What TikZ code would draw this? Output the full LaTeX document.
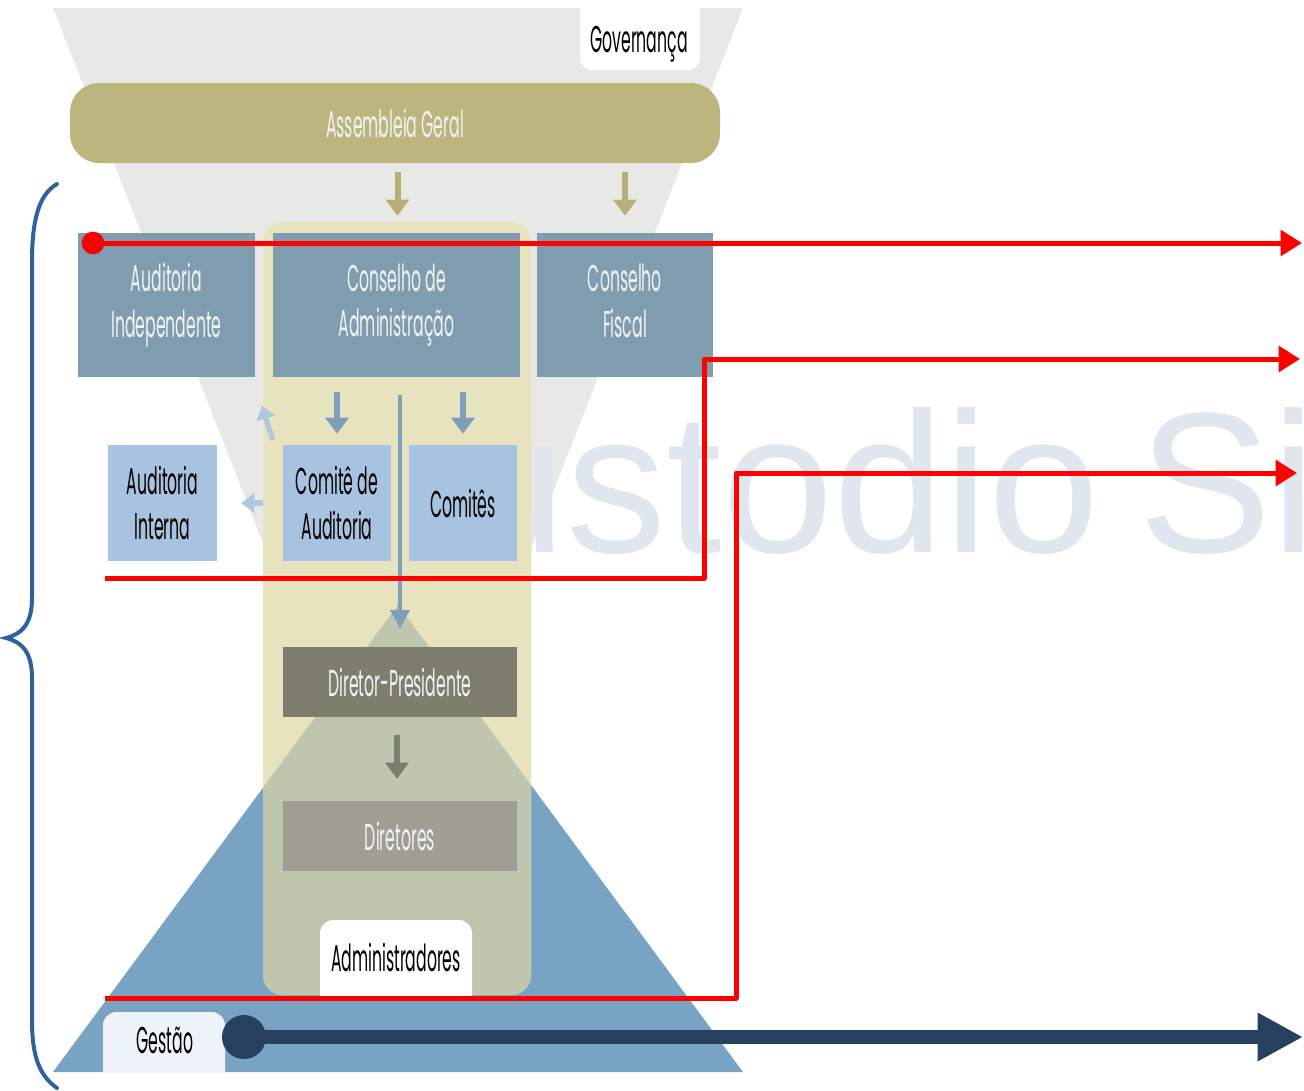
\documentclass[tikz,border=0pt]{standalone}
\usepackage{fontspec}
\newfontfamily\ff[FakeStretch=0.42]{Poppins}
\newfontfamily\wmfont{Liberation Sans}
\usetikzlibrary{arrows.meta,calc}
\definecolor{funnelc}{HTML}{E8E9E6}
\definecolor{panelc}{HTML}{E7E3BF}
\definecolor{blendc}{HTML}{BEC6AE}
\definecolor{tric}{HTML}{78A3C3}
\definecolor{steelc}{HTML}{7F9DAF}
\definecolor{lbluec}{HTML}{A8C3DF}
\definecolor{olivec}{HTML}{BDB57E}
\definecolor{oarrowc}{HTML}{B6AF78}
\definecolor{barrowc}{HTML}{7F9EB9}
\definecolor{lbarrowc}{HTML}{AFC7E1}
\definecolor{dpc}{HTML}{7E7E6F}
\definecolor{dirc}{HTML}{A09D94}
\definecolor{navyc}{HTML}{27405F}
\definecolor{bracec}{HTML}{3060A0}
\definecolor{wmc}{HTML}{DFE6EE}
\definecolor{gestc}{HTML}{EDF3F9}
\definecolor{wtext}{HTML}{F0F3F5}
\begin{document}
\begin{tikzpicture}[x=0.75pt,y=-0.75pt,
  wh/.style 2 args={minimum width=#1*0.75pt,minimum height=#2*0.75pt},
  txt/.style={font=\ff\fontsize{28}{34}\selectfont,align=center,inner sep=0pt},
  steelbox/.style={txt,fill=steelc,text=wtext},
  lbox/.style={txt,fill=lbluec,text=black},
  oarrow/.style={draw=oarrowc,line width=4.5pt,-{Triangle[width=17pt,length=12pt]}},
  barrow/.style={draw=barrowc,line width=4.5pt,-{Triangle[width=17pt,length=12pt]}},
  garrow/.style={draw=dpc,line width=4.5pt,-{Triangle[width=17pt,length=12pt]}},
  lbarrow/.style={draw=lbarrowc,line width=4pt,-{Triangle[width=14pt,length=10pt]}},
  redline/.style={draw=red,line width=3.75pt,line cap=butt,-{Triangle[width=19pt,length=16pt]}},
  wmark/.style={anchor=base west,inner sep=0pt,text=wmc,font=\wmfont\fontsize{150}{150}\selectfont}
]
\useasboundingbox (0,0) rectangle (1304,1090);
\fill[white] (0,0) rectangle (1304,1090);
\begin{scope}
\clip (0,0) rectangle (1304,1090);
% funnel
\fill[funnelc] (53,8) -- (743,8) -- (493,645) -- (303,645) -- cycle;
% watermark
\node[wmark] (wm) at (455,552) {ustodio\kern-13pt{} Si};
% pyramid
\fill[tric] (398,605) -- (743,1072) -- (53,1072) -- cycle;
% Governanca tab
\fill[white,rounded corners=9pt] (580,-20) rectangle (700,70);
\node[txt,text=black] (gov) at (639,44) {Governança};
% Assembleia
\node[txt,fill=olivec,text=wtext,wh={650}{80},rounded corners=22pt] (ag) at (395,123) {Assembleia Geral};
% panel
\fill[panelc,rounded corners=15pt] (263,222) rectangle (531,995);
\begin{scope}
\clip[rounded corners=15pt] (263,222) rectangle (531,995);
\fill[blendc] (398,605) -- (743,1072) -- (53,1072) -- cycle;
\end{scope}
% boxes
\node[steelbox,wh={177}{144}] (ai) at (166.5,305) {Auditoria\\Independente};
\node[steelbox,wh={247}{144}] (ca) at (396.5,305) {Conselho de\\Administração};
\node[steelbox,wh={176}{144}] (cf) at (625,305) {};
\node[txt,text=wtext] (cft) at (625,301) {Conselho\\Fiscal};
\node[lbox,wh={109}{116}] (aint) at (162.5,503) {Auditoria\\Interna};
\node[lbox,wh={108}{116}] (cda) at (337,503) {Comitê de\\Auditoria};
\node[lbox,wh={108}{116}] (com) at (463,503) {Comitês};
\node[txt,fill=dpc,text=wtext,wh={234}{70}] (dp) at (400,682) {Diretor-Presidente};
\node[txt,fill=dirc,text=wtext,wh={234}{70}] (dir) at (400,836) {Diretores};
% arrows
\draw[oarrow] ($(ag.south -| ca.north)+(1,9)$) -- ($(ca.north)+(1,-17)$);
\draw[oarrow] ($(ag.south -| cf.north)+(0,9)$) -- ($(cf.north)+(0,-17)$);
\draw[barrow] ($(ca.south -| cda.north)+(0,15)$) -- ($(cda.north)+(0,-11)$);
\draw[barrow] ($(ca.south -| com.north)+(0,15)$) -- ($(com.north)+(0,-11)$);
\draw[draw=barrowc,line width=3pt,-{Triangle[width=14pt,length=14pt]}] ($(ca.south)+(3.5,18)$) -- ($(dp.north)+(0,-18)$);
\draw[garrow] ($(dp.south)+(-3,18)$) -- ($(dir.north)+(-3,-22)$);
\draw[lbarrow] ($(cda.north west)+(-10,-5)$) -- ($(cda.north west)+(-21,-39)$);
\draw[lbarrow] ($(cda.west)+(-20,0)$) -- (241,503);
% Administradores tab
\begin{scope}
\clip (0,0) rectangle (1304,995);
\fill[white!97!black!2,rounded corners=10pt] (320,920) rectangle (472,1030);
\end{scope}
\node[txt,text=black] (adm) at (396,957) {Administradores};
% Gestao tab
\begin{scope}
\clip (0,0) rectangle (1304,1072);
\fill[gestc,rounded corners=10pt] (103,1012) rectangle (225,1100);
\end{scope}
\node[txt,text=black] (ges) at (165,1040) {Gestão};
\end{scope}
% red lines
\coordinate (r1s) at (93,243);
\coordinate (r1e) at (1302,243);
\draw[redline] (r1s) -- (r1e);
\fill[red] (r1s) circle (8.5pt);
\coordinate (r2s) at (105,578);
\coordinate (r2a) at (704,578);
\coordinate (r2b) at (704,359);
\coordinate (r2e) at (1300,359);
\draw[redline,line join=round] (r2s) -- (r2a) -- (r2b) -- (r2e);
\coordinate (r3s) at (105,998);
\coordinate (r3a) at (736,998);
\coordinate (r3b) at (736,473);
\coordinate (r3e) at (1297,473);
\draw[redline,line join=round] (r3s) -- (r3a) -- (r3b) -- (r3e);
% navy arrow
\coordinate (ns) at (244,1037);
\coordinate (ne) at (1303,1037);
\draw[navyc,line width=11pt,-{Triangle[width=34pt,length=34pt]}] (ns) -- (ne);
\fill[navyc] (ns) circle (16.5pt);
% brace
\draw[bracec,line width=3pt,line cap=round] (57,184) .. controls (38,195) and (32,222) .. (32,262) -- (32,598) .. controls (32,624) and (22,634) .. (6,638) .. controls (22,642) and (32,652) .. (32,678) -- (32,1020) .. controls (32,1058) and (40,1076) .. (57,1088);
\end{tikzpicture}
\end{document}
